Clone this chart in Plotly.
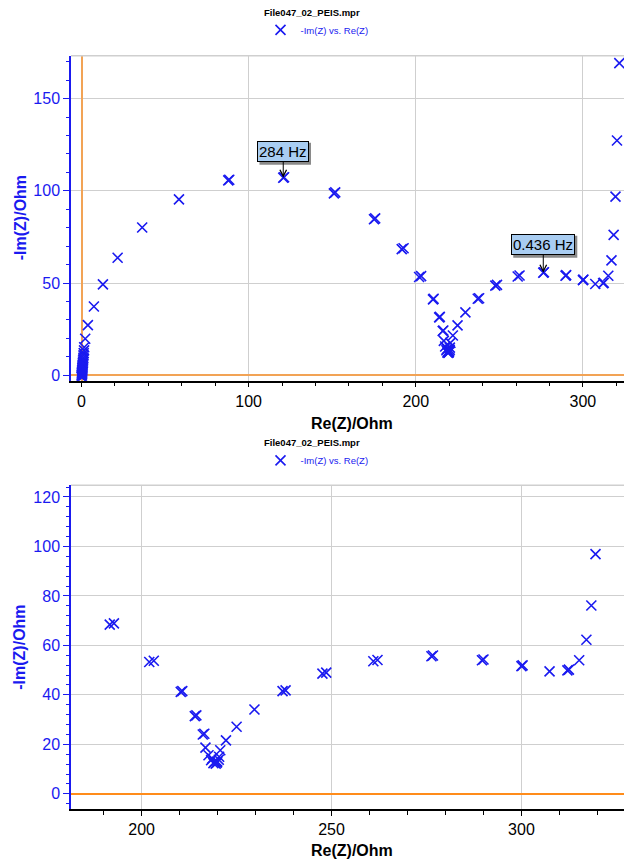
import plotly.graph_objects as go

# Nyquist data, first sweep (high -> low frequency)
re_z_scan1 = [0.2, 0.2, 0.3, 0.3, 0.4, 0.5, 0.6, 0.7, 0.9, 1.1, 1.3, 1.6,
              2.2, 3.8, 7.4, 12.8, 21.6, 36.3, 58.3, 87.8, 120.7, 151.0, 175.0,
              191.6, 202.0, 210.3, 214.0, 216.1, 216.8, 217.6, 218.3, 218.9,
              219.5, 219.9, 220.4, 220.7, 222.2, 225.0, 229.7, 237.1, 247.6,
              261.0, 276.3, 289.6, 300.0, 307.4, 312.1, 315.2, 317.1, 318.4,
              319.5, 320.4, 321.8]
neg_im_z_scan1 = [-1.2, -0.3, 0.5, 1.3, 2.2, 3.2, 4.4, 5.8, 7.5, 9.5, 12.0, 15.2,
                  19.8, 27.2, 37.3, 49.3, 63.7, 80.1, 95.4, 105.7, 107.1, 98.6, 84.6,
                  68.4, 53.3, 41.2, 31.4, 24.0, 18.7, 15.6, 13.6, 12.4,
                  12.2, 13.0, 15.0, 17.6, 21.6, 27.1, 34.1, 41.5, 48.6,
                  53.6, 55.6, 54.0, 51.6, 49.5, 49.9, 54.0, 62.3, 76.1,
                  96.9, 127.3, 169.2]

# Second sweep
re_z_scan2 = [0.0, 0.1, 0.2, 0.3, 0.4, 0.5, 0.6, 0.8, 1.0, 1.2, 1.5,
              88.4, 121.2, 151.8, 175.7, 192.7, 203.2, 210.7, 214.4, 216.5,
              218.6, 219.2, 219.8, 220.3, 237.9, 248.6, 262.1, 276.7, 290.0,
              300.3, 312.5]
neg_im_z_scan2 = [-0.8, 0.2, 1.0, 1.9, 2.9, 4.0, 5.2, 6.6, 8.5, 10.8, 13.5,
                  106.0, 107.4, 99.2, 85.1, 68.9, 53.8, 41.5, 31.7, 24.3,
                  14.3, 12.9, 12.6, 13.8, 41.8, 49.0, 54.1, 55.9, 54.3,
                  51.9, 50.2]

re_z = re_z_scan1 + re_z_scan2
neg_im_z = neg_im_z_scan1 + neg_im_z_scan2

# Frequency labels attached to points of the first sweep
freq_labels = ["284 Hz", "0.436 Hz"]
freq_index = [20, 42]

file_title = "File047_02_PEIS.mpr"
series_name = "-Im(Z) vs. Re(Z)"
x_title = "Re(Z)/Ohm"
y_title = "-Im(Z)/Ohm"

W, H = 624, 863
BLUE = "#1A1AF0"
FONT = "Liberation Sans, Arial, sans-serif"
GRID = "#CFCFCF"
CALLOUT_SIZE = 15


def py(v):
    """pixel row -> paper y"""
    return 1 - v / H


def px(v):
    return v / W


x_left = px(71)
top_dom = [py(382), py(56)]
bot_dom = [py(812), py(487)]

fig = go.Figure()
marker = dict(symbol="x-thin", size=10, color=BLUE, line=dict(width=1.6, color=BLUE))
fig.add_trace(go.Scatter(x=re_z, y=neg_im_z, mode="markers", name=series_name,
                         marker=marker, xaxis="x", yaxis="y", legend="legend",
                         showlegend=True))
fig.add_trace(go.Scatter(x=re_z, y=neg_im_z, mode="markers", name=series_name,
                         marker=marker, xaxis="x2", yaxis="y2", legend="legend2",
                         showlegend=True))


def xaxis_style(rng, dtick, minor, zcolor, zwidth):
    return dict(
        range=rng, dtick=dtick, tick0=0, showgrid=True, gridcolor=GRID, gridwidth=1,
        zeroline=True, zerolinecolor=zcolor, zerolinewidth=zwidth,
        showline=True, linecolor="black", linewidth=1.5,
        ticks="outside", ticklen=5, tickcolor="black", tickwidth=1,
        minor=dict(dtick=minor, tick0=0, ticks="outside", ticklen=4,
                   tickcolor="black", showgrid=False),
        tickfont=dict(family=FONT, size=16, color="black"),
    )


def yaxis_style(rng, dtick, minor, zcolor, zwidth):
    return dict(
        range=rng, dtick=dtick, tick0=0, showgrid=True, gridcolor=GRID, gridwidth=1,
        zeroline=True, zerolinecolor=zcolor, zerolinewidth=zwidth,
        showline=True, linecolor=BLUE, linewidth=1.5,
        ticks="outside", ticklen=6, tickcolor=BLUE, tickwidth=1,
        minor=dict(dtick=minor, tick0=0, ticks="outside", ticklen=3,
                   tickcolor=BLUE, showgrid=False),
        tickfont=dict(family=FONT, size=16, color=BLUE),
    )


xa1 = xaxis_style([-6.3, 324.6], 100, 20, "#F2A355", 2)
xa1.update(domain=[x_left, 1], anchor="y")
ya1 = yaxis_style([-2.9, 173.2], 50, 10, "#F2A355", 2)
ya1.update(domain=top_dom, anchor="x")
xa2 = xaxis_style([181.4, 327.0], 50, 10, "#FF8C1A", 1.5)
xa2.update(domain=[x_left, 1], anchor="y2")
ya2 = yaxis_style([-6.2, 124.7], 20, 4, "#FF8C1A", 1.5)
ya2.update(domain=bot_dom, anchor="x2")

legend_style = dict(xanchor="center", yanchor="middle", bgcolor="rgba(0,0,0,0)",
                    font=dict(family=FONT, size=9.5, color=BLUE), itemwidth=30,
                    visible=True)

annotations = []
shapes = []


def text_note(text, x_px, y_px, size, color, angle=0):
    return dict(text=text, x=px(x_px), y=py(y_px), xref="paper", yref="paper",
                xanchor="center", yanchor="middle", showarrow=False, textangle=angle,
                font=dict(family=FONT, size=size, color=color))


for y_px in (13, 444):
    annotations.append(text_note(f"<b>{file_title}</b>", 312, y_px, 9.5, "black"))
for y_px in (425, 853):
    annotations.append(text_note(f"<b>{x_title}</b>", 352, y_px, 16, "black"))
for y_px in (219, 650):
    annotations.append(text_note(f"<b>{y_title}</b>", 20, y_px, 16, BLUE, -90))


def label_width(text, size):
    """rough rendered width of a callout box (text + padding + border)"""
    widths = {" ": 0.278, ".": 0.278, "H": 0.722, "z": 0.5}
    return sum(widths.get(c, 0.556) for c in text) * size + 4


# frequency callouts: light-blue box with a grey drop shadow and an arrow to the point
for label, idx, lift in zip(freq_labels, freq_index, (26, 28)):
    xv, yv = re_z_scan1[idx], neg_im_z_scan1[idx]
    half_w = label_width(label, CALLOUT_SIZE) / 2
    half_h = 11
    shapes.append(dict(type="rect", xref="x", yref="y", xsizemode="pixel",
                       ysizemode="pixel", xanchor=xv, yanchor=yv,
                       x0=-half_w + 2, x1=half_w + 2,
                       y0=lift - half_h - 2, y1=lift + half_h - 2,
                       fillcolor="#8A8A8A", line=dict(width=0), layer="above"))
    annotations.append(dict(text=label, x=xv, y=yv, xref="x", yref="y",
                            showarrow=True, ax=0, ay=-lift, borderpad=1, borderwidth=1,
                            bgcolor="#A9CDF2", bordercolor="black", arrowcolor="black",
                            arrowhead=5, arrowsize=1.3, arrowwidth=1,
                            font=dict(family=FONT, size=CALLOUT_SIZE, color="black")))

for xr, yr in (("x domain", "y domain"), ("x2 domain", "y2 domain")):
    shapes.append(dict(type="line", xref=xr, yref=yr, x0=0, x1=1, y0=1, y1=1,
                       line=dict(color=GRID, width=1.5)))

fig.update_layout(
    width=W, height=H, margin=dict(l=0, r=0, t=0, b=0),
    paper_bgcolor="white", plot_bgcolor="white", showlegend=True,
    xaxis=xa1, yaxis=ya1, xaxis2=xa2, yaxis2=ya2,
    legend=dict(legend_style, x=px(317), y=py(30)),
    legend2=dict(legend_style, x=px(317), y=py(462)),
    annotations=annotations, shapes=shapes,
    font=dict(family=FONT),
)

fig.write_html("out.html")
